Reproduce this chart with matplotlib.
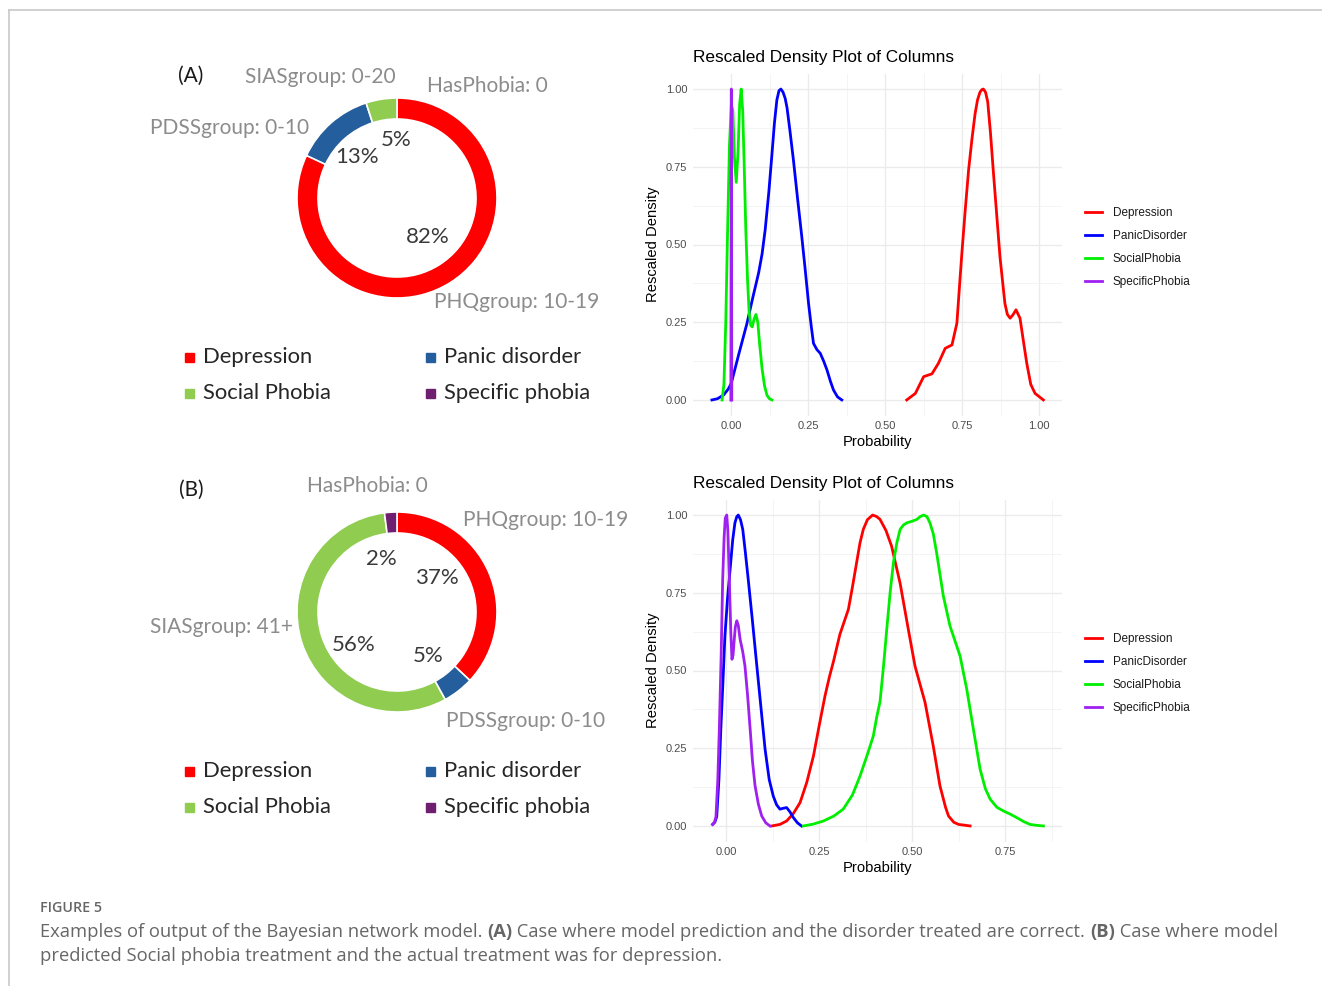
import numpy as np
import matplotlib.pyplot as plt
from matplotlib.patches import Rectangle
from matplotlib.lines import Line2D
from matplotlib.ticker import FormatStrFormatter

W, H = 1322, 986

# donut charts: posterior share of each disorder
disorders = ['Depression', 'Panic disorder', 'Social Phobia', 'Specific phobia']
disorder_colors = ['#ff0000', '#245e9c', '#8fcc50', '#6f1f70']
share_a = [82, 13, 5, 0]
share_b = [37, 5, 56, 2]
evidence_a = ['PHQgroup: 10-19', 'PDSSgroup: 0-10', 'SIASgroup: 0-20', 'HasPhobia: 0']
evidence_b = ['PHQgroup: 10-19', 'PDSSgroup: 0-10', 'SIASgroup: 41+', 'HasPhobia: 0']

# rescaled density curves
series = ['Depression', 'PanicDisorder', 'SocialPhobia', 'SpecificPhobia']
series_colors = ['#ff0000', '#0000ff', '#00ee00', '#a020f0']

a_dep_x = [0.570, 0.598, 0.625, 0.652, 0.673, 0.695, 0.717, 0.733, 0.741, 0.749, 0.760, 0.771, 0.782, 0.792, 0.800,
           0.808, 0.814, 0.819, 0.826, 0.833, 0.842, 0.851, 0.862, 0.873, 0.889, 0.897, 0.906, 0.916, 0.925, 0.938,
           0.949, 0.960, 0.973, 0.987, 1.014]
a_dep_y = [0.0, 0.021, 0.075, 0.084, 0.118, 0.166, 0.177, 0.247, 0.36, 0.47, 0.61, 0.74, 0.84, 0.92, 0.965,
           0.99, 0.998, 1.0, 0.99, 0.96, 0.86, 0.74, 0.60, 0.46, 0.31, 0.275, 0.263, 0.275, 0.29, 0.263,
           0.19, 0.118, 0.05, 0.021, 0.0]

a_pan_x = [-0.063, -0.045, -0.025, -0.010, 0.0, 0.025, 0.051, 0.070, 0.089, 0.100, 0.110, 0.122, 0.132, 0.140,
           0.148, 0.155, 0.161, 0.168, 0.175, 0.181, 0.190, 0.202, 0.215, 0.229, 0.240, 0.251, 0.260, 0.267,
           0.278, 0.289, 0.300, 0.311, 0.322, 0.332, 0.345, 0.359]
a_pan_y = [0.0, 0.004, 0.016, 0.035, 0.054, 0.15, 0.247, 0.33, 0.41, 0.47, 0.547, 0.67, 0.79, 0.89,
           0.965, 0.995, 1.0, 0.99, 0.97, 0.94, 0.87, 0.77, 0.65, 0.525, 0.42, 0.31, 0.235, 0.182,
           0.162, 0.15, 0.125, 0.096, 0.06, 0.032, 0.01, 0.0]

a_soc_x = [-0.030, -0.024, -0.018, -0.012, -0.006, 0.000, 0.005, 0.010, 0.016, 0.022, 0.027, 0.032, 0.037, 0.042,
           0.047, 0.053, 0.058, 0.063, 0.068, 0.074, 0.080, 0.086, 0.092, 0.100, 0.108, 0.116, 0.124, 0.132]
a_soc_y = [0.0, 0.05, 0.25, 0.55, 0.82, 0.95, 0.93, 0.78, 0.70, 0.80, 0.95, 1.0, 0.93, 0.75,
           0.55, 0.38, 0.28, 0.24, 0.235, 0.26, 0.275, 0.25, 0.18, 0.10, 0.045, 0.015, 0.004, 0.0]

a_spec_x = [-0.0015, 0.0, 0.0015]
a_spec_y = [0.0, 1.0, 0.0]

b_dep_x = [0.123, 0.145, 0.163, 0.181, 0.199, 0.217, 0.235, 0.250, 0.266, 0.278, 0.289, 0.306, 0.329, 0.340,
           0.351, 0.360, 0.369, 0.380, 0.394, 0.405, 0.414, 0.430, 0.445, 0.468, 0.490, 0.508, 0.535, 0.557,
           0.575, 0.590, 0.598, 0.612, 0.625, 0.656]
b_dep_y = [0.0, 0.005, 0.016, 0.04, 0.075, 0.14, 0.225, 0.32, 0.418, 0.48, 0.53, 0.616, 0.697, 0.77,
           0.847, 0.91, 0.954, 0.985, 1.0, 0.995, 0.986, 0.95, 0.90, 0.78, 0.632, 0.514, 0.397, 0.257,
           0.129, 0.06, 0.032, 0.012, 0.005, 0.0]

b_pan_x = [-0.036, -0.030, -0.025, -0.019, -0.014, -0.008, -0.003, 0.004, 0.011, 0.018, 0.024, 0.029, 0.033,
           0.039, 0.045, 0.052, 0.060, 0.071, 0.082, 0.094, 0.105, 0.116, 0.127, 0.136, 0.145, 0.154, 0.163,
           0.172, 0.181, 0.192, 0.203]
b_pan_y = [0.005, 0.012, 0.03, 0.15, 0.31, 0.47, 0.61, 0.73, 0.825, 0.92, 0.975, 0.995, 1.0,
           0.985, 0.954, 0.88, 0.79, 0.66, 0.525, 0.38, 0.247, 0.15, 0.096, 0.068, 0.054, 0.057, 0.059,
           0.045, 0.027, 0.01, 0.0]

b_soc_x = [0.208, 0.235, 0.262, 0.290, 0.315, 0.340, 0.360, 0.380, 0.396, 0.405, 0.414, 0.423, 0.432, 0.441,
           0.450, 0.459, 0.468, 0.477, 0.486, 0.500, 0.513, 0.522, 0.531, 0.540, 0.548, 0.557, 0.566, 0.575,
           0.584, 0.602, 0.629, 0.647, 0.665, 0.683, 0.697, 0.710, 0.728, 0.746, 0.764, 0.781, 0.800, 0.817,
           0.835, 0.853]
b_soc_y = [0.0, 0.006, 0.016, 0.032, 0.054, 0.10, 0.16, 0.23, 0.29, 0.35, 0.40, 0.51, 0.632, 0.75,
           0.847, 0.91, 0.954, 0.968, 0.975, 0.98, 0.986, 0.995, 1.0, 0.995, 0.975, 0.94, 0.879, 0.81,
           0.74, 0.643, 0.547, 0.44, 0.31, 0.182, 0.12, 0.086, 0.06, 0.048, 0.038, 0.027, 0.014, 0.005,
           0.002, 0.0]

b_spec_x = [-0.036, -0.031, -0.027, -0.022, -0.018, -0.013, -0.009, -0.005, -0.002, 0.002, 0.005, 0.009, 0.013,
            0.016, 0.019, 0.0215, 0.025, 0.029, 0.033, 0.038, 0.045, 0.051, 0.058, 0.065, 0.071, 0.078, 0.087,
            0.096, 0.107, 0.118]
b_spec_y = [0.005, 0.012, 0.03, 0.15, 0.31, 0.55, 0.79, 0.93, 0.99, 1.0, 0.95, 0.79, 0.62,
            0.536, 0.55, 0.59, 0.64, 0.66, 0.645, 0.60, 0.56, 0.514, 0.42, 0.31, 0.21, 0.13, 0.07,
            0.032, 0.01, 0.0]

curves_a = [(a_dep_x, a_dep_y), (a_pan_x, a_pan_y), (a_soc_x, a_soc_y), (a_spec_x, a_spec_y)]
curves_b = [(b_dep_x, b_dep_y), (b_pan_x, b_pan_y), (b_soc_x, b_soc_y), (b_spec_x, b_spec_y)]


def fx(x):
    return x / W


def fy(y):
    return 1 - y / H


fig = plt.figure(figsize=(W / 100, H / 100), dpi=100)
renderer = fig.canvas.get_renderer()

donut_font = 'Lato'
pct_pos_a = [(428, 237), (357, 157), (396, 140), None]
pct_pos_b = [(437, 578), (428, 656), (354, 645), (381, 559)]
ev_pos_a = [(517, 302), (230, 128), (320, 77), (487, 86)]
ev_pos_b = [(546, 520), (526, 721), (221, 627), (367, 486)]


def donut(cy, shares, pct_pos, evidence, ev_pos, tag, legend_y):
    ax = fig.add_axes([fx(397 - 150), fy(cy + 150), 300 / W, 300 / H])
    vals = [v for v in shares if v > 0]
    cols = [c for v, c in zip(shares, disorder_colors) if v > 0]
    ax.pie(vals, colors=cols, startangle=90, counterclock=False, radius=1.0,
           wedgeprops=dict(width=0.21, edgecolor='white', linewidth=1.2))
    ax.set_xlim(-1.5, 1.5)
    ax.set_ylim(-1.5, 1.5)
    ax.set_aspect('equal')
    ax.axis('off')
    for v, p in zip(shares, pct_pos):
        if p is not None:
            fig.text(fx(p[0]), fy(p[1]), f'{v}%', ha='center', va='center',
                     fontsize=16, color='#3a3a3a', family=donut_font)
    for s, p in zip(evidence, ev_pos):
        fig.text(fx(p[0]), fy(p[1]), s, ha='center', va='center',
                 fontsize=15, color='#8c8c8c', family=donut_font)
    fig.text(fx(191), fy(cy - 122), tag, ha='center', va='center',
             fontsize=15, color='#1a1a1a', family=donut_font)
    # legend below the ring
    slots = [(189, legend_y), (430, legend_y), (189, legend_y + 36), (430, legend_y + 36)]
    for name, c, (sx, sy) in zip(disorders, disorder_colors, slots):
        fig.add_artist(Rectangle((fx(sx - 4.5), fy(sy + 4.5)), 9 / W, 9 / H,
                                 transform=fig.transFigure, color=c))
        fig.text(fx(sx + 14), fy(sy), name, ha='left', va='center',
                 fontsize=15.8, color='#262626', family=donut_font)


donut(198, share_a, pct_pos_a, evidence_a, ev_pos_a, '(A)', 357)
donut(612, share_b, pct_pos_b, evidence_b, ev_pos_b, '(B)', 771)


def density(top_px, curves, xlim, xmajor, legend_cy):
    ax = fig.add_axes([fx(693), fy(top_px + 342), 369 / W, 342 / H])
    for (x, y), name, c in zip(curves, series, series_colors):
        ax.plot(x, y, color=c, lw=2.0, label=name, solid_joinstyle='round')
    ax.set_xlim(*xlim)
    ax.set_ylim(-0.05, 1.05)
    ax.set_xticks(xmajor)
    minor_x = [t + 0.125 for t in xmajor if t + 0.125 < xlim[1]]
    ax.set_xticks(minor_x, minor=True)
    ax.set_yticks([0, 0.25, 0.5, 0.75, 1.0])
    ax.set_yticks([0.125, 0.375, 0.625, 0.875], minor=True)
    ax.xaxis.set_major_formatter(FormatStrFormatter('%.2f'))
    ax.yaxis.set_major_formatter(FormatStrFormatter('%.2f'))
    ax.grid(which='major', color='#ebebeb', lw=1.0)
    ax.grid(which='minor', color='#f2f2f2', lw=0.6)
    ax.set_axisbelow(True)
    for sp in ax.spines.values():
        sp.set_visible(False)
    ax.tick_params(which='both', length=0)
    ax.tick_params(labelsize=8, labelcolor='#4d4d4d', pad=4)
    ax.set_title('Rescaled Density Plot of Columns', loc='left', fontsize=12.4,
                 family='Liberation Sans', pad=8)
    ax.set_xlabel('Probability', fontsize=10.6, family='Liberation Sans', labelpad=3)
    ax.set_ylabel('Rescaled Density', fontsize=10.6, family='Liberation Sans', labelpad=4)
    for lab in ax.get_xticklabels() + ax.get_yticklabels():
        lab.set_family('Liberation Sans')
    leg = ax.legend(loc='center left', bbox_to_anchor=(fx(1085), fy(legend_cy)),
                    bbox_transform=fig.transFigure, frameon=False,
                    prop={'family': 'Liberation Sans', 'size': 8.5},
                    handlelength=1.45, handletextpad=0.9, labelspacing=0.92, borderpad=0, borderaxespad=0)
    for t in leg.get_texts():
        t.set_color('#1a1a1a')


density(73.5, curves_a, (-0.1245, 1.0745), [0, 0.25, 0.5, 0.75, 1.0], 247.5)
density(499.5, curves_b, (-0.0887, 0.903), [0, 0.25, 0.5, 0.75], 673.5)

# page frame
fig.add_artist(Line2D([fx(9), 1], [fy(10), fy(10)], transform=fig.transFigure, color='#c8c8c8', lw=1.2))
fig.add_artist(Line2D([fx(9), fx(9)], [fy(10), 0], transform=fig.transFigure, color='#c8c8c8', lw=1.2))

# caption
cap_kw = dict(fontsize=13.2, color='#666666', family='Open Sans', va='center', ha='left')


def run_text(x_px, y_px, runs):
    x = fx(x_px)
    for s, weight in runs:
        fig.text(x, fy(y_px), s, fontweight=weight, **cap_kw)
        probe = fig.text(0, 0, s + '.', fontweight=weight, **cap_kw)
        dot = fig.text(0, 0, '.', fontweight=weight, **cap_kw)
        w = probe.get_window_extent(renderer).width - dot.get_window_extent(renderer).width
        probe.remove()
        dot.remove()
        x += w / W


fig.text(fx(40), fy(908), 'FIGURE 5', fontsize=10.3, color='#666666', family='Open Sans',
         fontweight='semibold', va='center', ha='left')
run_text(40, 932, [('Examples of output of the Bayesian network model. ', 'normal'), ('(A)', 'bold'),
                   (' Case where model prediction and the disorder treated are correct. ', 'normal'),
                   ('(B)', 'bold'), (' Case where model', 'normal')])
run_text(40, 956, [('predicted Social phobia treatment and the actual treatment was for depression.', 'normal')])

fig.savefig('out.png', dpi=100, facecolor='white')
